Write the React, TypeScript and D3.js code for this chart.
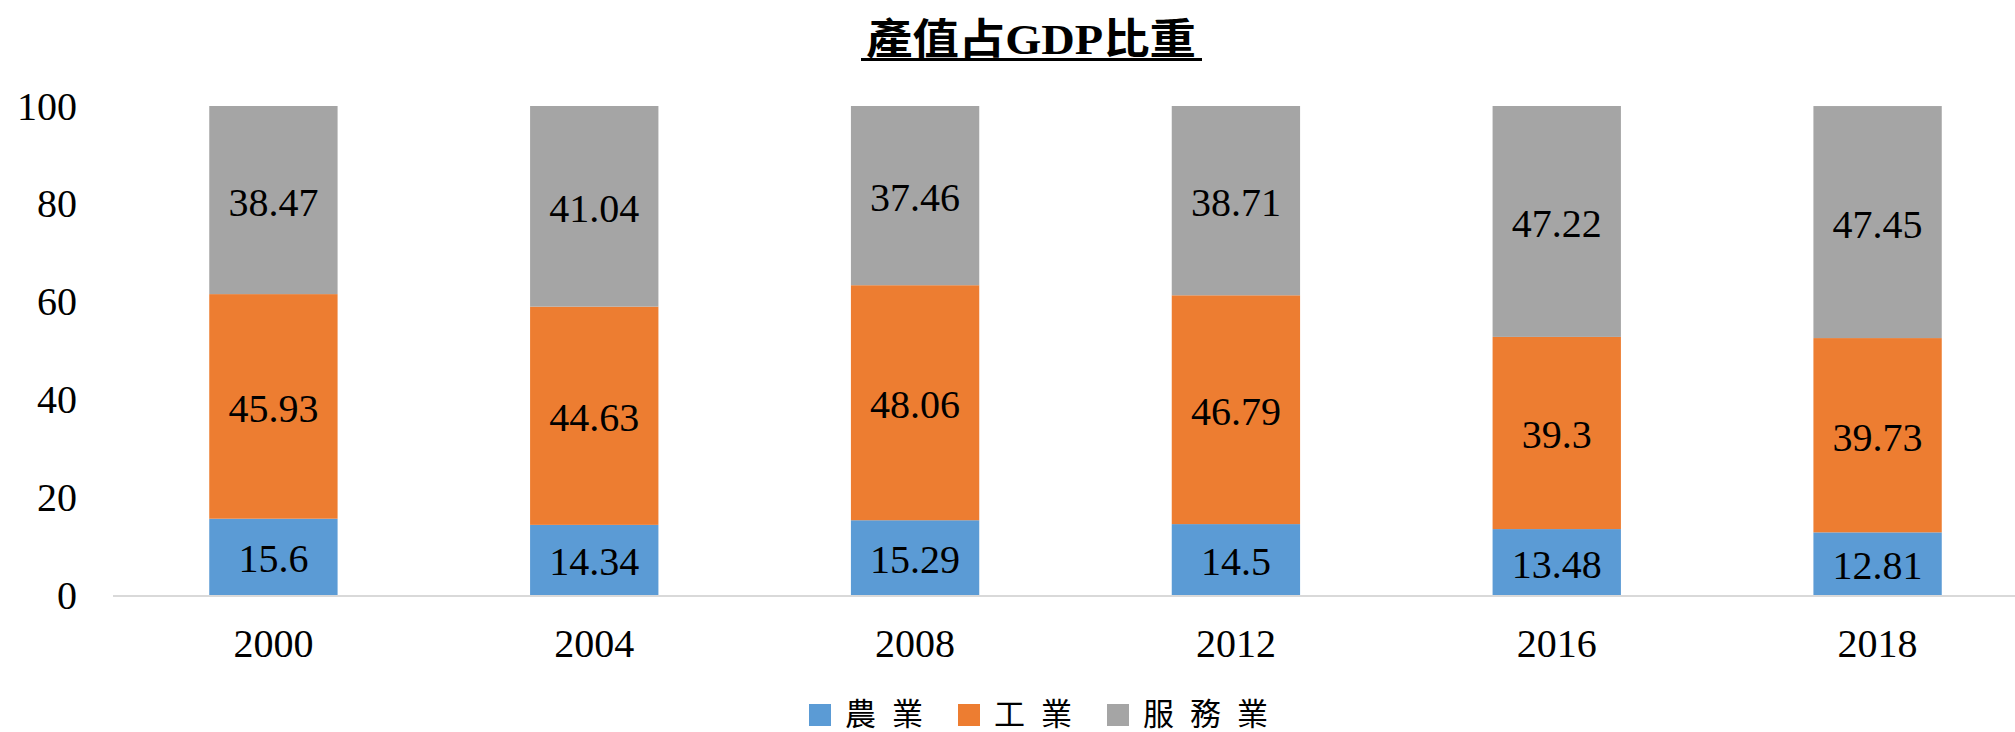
import React from "react";
import * as d3 from "d3";

// data
const years = ["2000", "2004", "2008", "2012", "2016", "2018"];
const agriculture = [15.6, 14.34, 15.29, 14.5, 13.48, 12.81];
const industry = [45.93, 44.63, 48.06, 46.79, 39.3, 39.73];
const services = [38.47, 41.04, 37.46, 38.71, 47.22, 47.45];
const seriesNames = ["農業", "工業", "服務業"];
const seriesColors = ["#5B9BD5", "#ED7D31", "#A5A5A5"];
const yTicks = [0, 20, 40, 60, 80, 100];

const W = 2015;
const H = 732;
const serif = "Times New Roman, Liberation Serif, DejaVu Serif, Noto Sans CJK TC, serif";
const cjk = "Noto Sans CJK TC, serif";

export default function App() {
  // x band: first bar centred half a step from the axis start
  const x = d3.scaleBand().domain(years).range([113, 2038]).paddingInner(0.6).paddingOuter(0.3);
  const y = d3.scaleLinear().domain([0, 100]).range([595, 106]).clamp(true);

  const rows = years.map((yr, i) => ({
    year: yr,
    agr: agriculture[i],
    ind: industry[i],
    ser: services[i],
  }));
  const stack = d3.stack<any>().keys(["agr", "ind", "ser"]);
  const layers = stack(rows);

  // legend positions (square left edge)
  const legendX = [809, 958, 1107];

  return (
    <svg width={W} height={H} style={{ display: "block", position: "absolute", left: 0, top: 0 }}>
      <rect width={W} height={H} fill="#fff" />

      {/* title */}
      <text
        x={1031}
        y={40}
        textAnchor="middle"
        dominantBaseline="central"
        style={{ fontFamily: serif }}
        fontWeight="bold"
        fontSize={42}
        textLength={330}
        lengthAdjust="spacingAndGlyphs"
      >
        產值占GDP比重
      </text>
      <line x1={861} x2={1202} y1={59.5} y2={59.5} stroke="#000" strokeWidth={3} />

      {/* y axis labels */}
      {yTicks.map((t) => (
        <text key={t} x={77} y={y(t)} textAnchor="end" dominantBaseline="central" style={{ fontFamily: serif }} fontSize={40}>
          {t}
        </text>
      ))}

      {/* bars, clipped at 100 like the value axis */}
      {layers.map((layer, li) => (
        <g key={li}>
          {layer.map((d: any, i: number) => {
            const x0 = x(years[i]) as number;
            const y0 = y(d[1]);
            const h = y(d[0]) - y(d[1]);
            const v = d[1] - d[0];
            return (
              <g key={i}>
                <rect x={x0} y={y0} width={x.bandwidth()} height={h} fill={seriesColors[li]} />
                <text
                  x={x0 + x.bandwidth() / 2}
                  y={y0 + h / 2 + 2}
                  textAnchor="middle"
                  dominantBaseline="central"
                  style={{ fontFamily: serif }}
                  fontSize={40}
                >
                  {String(+v.toFixed(2))}
                </text>
              </g>
            );
          })}
        </g>
      ))}

      {/* x axis */}
      <line x1={113} x2={W} y1={y(0) + 1} y2={y(0) + 1} stroke="#D9D9D9" strokeWidth={2} />
      {years.map((yr) => (
        <text
          key={yr}
          x={(x(yr) as number) + x.bandwidth() / 2}
          y={643}
          textAnchor="middle"
          dominantBaseline="central"
          style={{ fontFamily: serif }}
          fontSize={40}
        >
          {yr}
        </text>
      ))}

      {/* legend */}
      {seriesNames.map((name, i) => (
        <g key={name}>
          <rect x={legendX[i]} y={704} width={22} height={22} fill={seriesColors[i]} />
          <text
            x={legendX[i] + 36}
            y={711}
            dominantBaseline="central"
            style={{ fontFamily: cjk }}
            fontSize={31}
            letterSpacing={16}
          >
            {name}
          </text>
        </g>
      ))}
    </svg>
  );
}
